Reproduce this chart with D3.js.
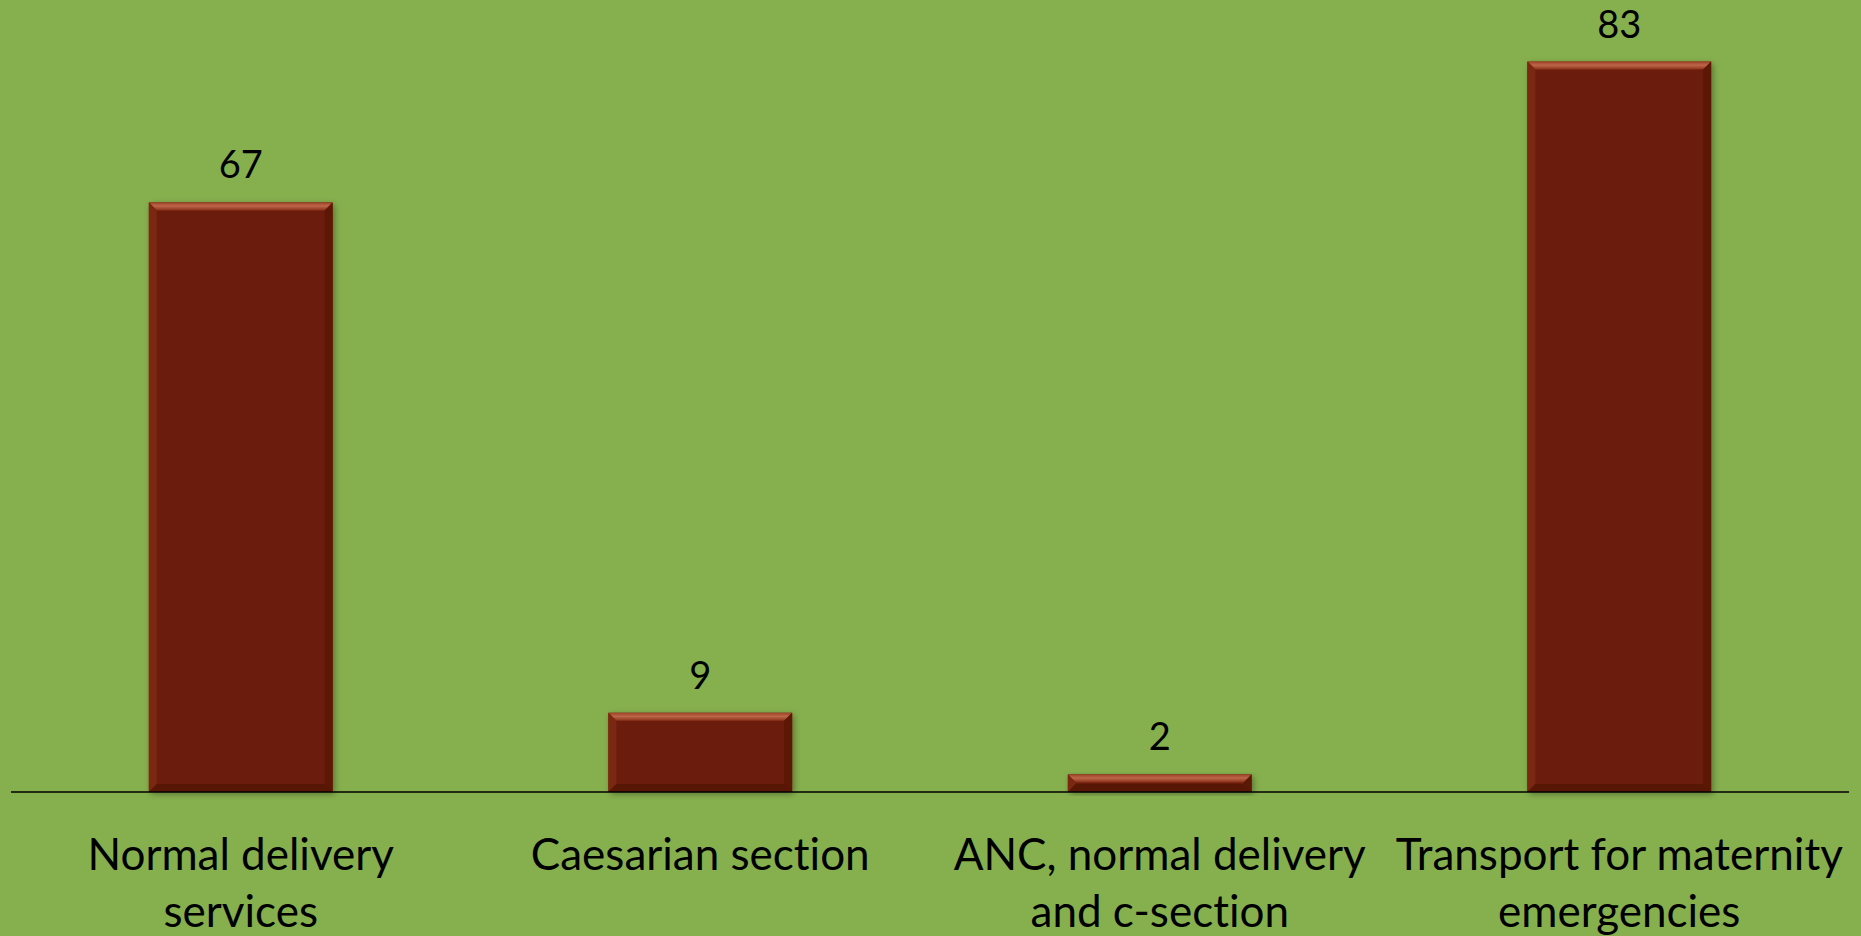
<!DOCTYPE html>
<html>
<head>
<meta charset="utf-8">
<script src="https://cdn.jsdelivr.net/npm/d3@7"></script>
<style>
  body { margin: 0; background: #86b04e; }
  svg { display: block; }
  text { font-variant-ligatures: none; font-feature-settings: "liga" 0; }
</style>
</head>
<body>
<svg id="chart"></svg>
<script>
// data
const categories = ['Normal delivery services', 'Caesarian section', 'ANC, normal delivery and c-section', 'Transport for maternity emergencies'];
const labelLines = [['Normal delivery', 'services'], ['Caesarian section'], ['ANC, normal delivery', 'and c-section'], ['Transport for maternity', 'emergencies']];
const values = [67, 9, 2, 83];

const width = 1861, height = 936;
const svg = d3.select('#chart').attr('width', width).attr('height', height);

svg.append('rect').attr('width', width).attr('height', height).attr('fill', '#86b04e');

const margin = { top: 0, left: 11, right: 12, baseline: 792 };

const x = d3.scaleBand()
    .domain(categories)
    .range([margin.left, width - margin.right])
    .padding(0);

const y = d3.scaleLinear()
    .domain([0, 90])
    .range([margin.baseline, margin.top]);

const barW = x.bandwidth() * 0.4;
const bev = 8;

const defs = svg.append('defs');
const f = defs.append('filter').attr('id', 'shadow').attr('x', '-10%').attr('y', '-10%').attr('width', '130%').attr('height', '130%');
f.append('feDropShadow').attr('dx', 2).attr('dy', 2).attr('stdDeviation', 3).attr('flood-color', '#000').attr('flood-opacity', 0.35);

const topGrad = defs.append('linearGradient').attr('id', 'topbev').attr('x1', 0).attr('y1', 0).attr('x2', 0).attr('y2', 1);
topGrad.append('stop').attr('offset', '0%').attr('stop-color', '#9e4128');
topGrad.append('stop').attr('offset', '45%').attr('stop-color', '#bd6649');
topGrad.append('stop').attr('offset', '100%').attr('stop-color', '#8a3119');

const bars = svg.append('g').selectAll('g')
    .data(values)
    .join('g')
    .attr('transform', (d, i) => `translate(${x(categories[i]) + (x.bandwidth() - barW) / 2},0)`);

bars.append('rect')
    .attr('x', 0)
    .attr('y', d => y(d))
    .attr('width', barW)
    .attr('height', d => y(0) - y(d))
    .attr('fill', '#6c1d08')
    .attr('filter', 'url(#shadow)');

// bevel: top, left, right, bottom faces
bars.each(function(d) {
    const g = d3.select(this);
    const t = y(d), b = y(0), h = b - t;
    const e = Math.min(bev, h / 2);
    g.append('polygon')
        .attr('points', [[0, t], [barW, t], [barW - e, t + e], [e, t + e]].join(' '))
        .attr('fill', 'url(#topbev)');
    g.append('polygon')
        .attr('points', [[0, t], [e, t + e], [e, b - e], [0, b]].join(' '))
        .attr('fill', '#7a2811');
    g.append('polygon')
        .attr('points', [[barW, t], [barW, b], [barW - e, b - e], [barW - e, t + e]].join(' '))
        .attr('fill', '#5c1705');
    g.append('polygon')
        .attr('points', [[0, b], [barW, b], [barW - e, b - e], [e, b - e]].join(' '))
        .attr('fill', '#581604');
});

// value labels
svg.append('g').selectAll('text')
    .data(values)
    .join('text')
    .attr('x', (d, i) => x(categories[i]) + x.bandwidth() / 2)
    .attr('y', d => y(d) - 24)
    .attr('text-anchor', 'middle')
    .attr('font-family', 'Lato, "Open Sans", sans-serif')
    .attr('font-size', '38px')
    .attr('fill', '#000')
    .text(d => d);

// baseline
svg.append('line')
    .attr('x1', margin.left).attr('x2', width - margin.right)
    .attr('y1', y(0)).attr('y2', y(0))
    .attr('stroke', '#000').attr('stroke-width', 1.5);

// category labels
const cat = svg.append('g').selectAll('text')
    .data(categories)
    .join('text')
    .attr('x', d => x(d) + x.bandwidth() / 2)
    .attr('y', 870)
    .attr('text-anchor', 'middle')
    .attr('font-family', 'Lato, "Open Sans", sans-serif')
    .attr('font-size', '44px')
    .attr('fill', '#000');

cat.selectAll('tspan')
    .data((d, i) => labelLines[i])
    .join('tspan')
    .attr('x', function() { return this.parentNode.getAttribute('x'); })
    .attr('dy', (d, j) => j === 0 ? 0 : 57)
    .text(d => d);
</script>
</body>
</html>
